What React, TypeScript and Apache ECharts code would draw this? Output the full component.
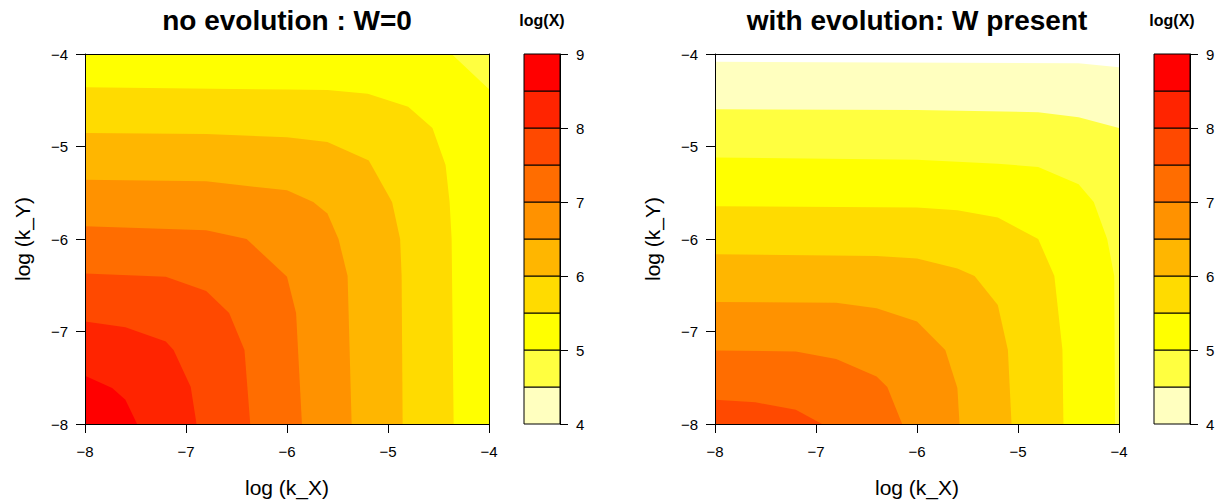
import React, { useEffect, useRef } from "react";
import * as echarts from "echarts";

// ---------- data ----------
const tickValues = [-8, -7, -6, -5, -4];
const legendTicks = [4, 5, 6, 7, 8, 9];
const levelBreaks = [4, 4.5, 5, 5.5, 6, 6.5, 7, 7.5, 8, 8.5, 9];
const bandColors = [
  "#FFFFBF", "#FFFF40", "#FFFF00", "#FFDB00", "#FFB600",
  "#FF9200", "#FF6D00", "#FF4900", "#FF2400", "#FF0000",
];

const noEvoTitle = "no evolution : W=0";
const withEvoTitle = "with evolution: W present";
const xTitle = "log (k_X)";
const yTitle = "log (k_Y)";
const legendTitle = "log(X)";

// Left panel: contour lines (log k_X, log k_Y) for each level; region toward (-8,-8) is above the level
const noEvoBaseLevel = 4.5; // lowest band present in the panel
const noEvoLevels = [5, 5.5, 6, 6.5, 7, 7.5, 8, 8.5];
const noEvo50 = [[-4.37, -4], [-4, -4.38]];
const noEvo55 = [[-8, -4.36], [-6, -4.385], [-5.6, -4.39], [-5.2, -4.43], [-4.8, -4.57], [-4.56, -4.8], [-4.43, -5.2], [-4.39, -5.6], [-4.37, -6.0], [-4.36, -7.0], [-4.35, -8]];
const noEvo60 = [[-8, -4.855], [-6.8, -4.865], [-6, -4.9], [-5.6, -4.95], [-5.19, -5.15], [-4.96, -5.6], [-4.88, -6.0], [-4.865, -6.4], [-4.855, -8]];
const noEvo65 = [[-8, -5.36], [-6.8, -5.377], [-6, -5.474], [-5.74, -5.6], [-5.6, -5.725], [-5.49, -6.0], [-5.4, -6.4], [-5.36, -8]];
const noEvo70 = [[-8, -5.862], [-6.8, -5.905], [-6.4, -6.0], [-6, -6.408], [-5.91, -6.8], [-5.852, -8]];
const noEvo75 = [[-8, -6.372], [-7.2, -6.408], [-6.8, -6.563], [-6.573, -6.8], [-6.421, -7.2], [-6.364, -8]];
const noEvo80 = [[-8, -6.893], [-7.6, -6.954], [-7.2, -7.109], [-7.123, -7.2], [-6.953, -7.6], [-6.896, -8]];
const noEvo85 = [[-8, -7.479], [-7.731, -7.612], [-7.6, -7.738], [-7.484, -8]];
const noEvoContours = [noEvo50, noEvo55, noEvo60, noEvo65, noEvo70, noEvo75, noEvo80, noEvo85];

// Right panel
const withEvoBaseLevel: number | null = null; // below 4: left blank
const withEvoLevels = [4, 4.5, 5, 5.5, 6, 6.5, 7, 7.5];
const withEvo40 = [[-8, -4.083], [-4.4, -4.1], [-4, -4.144]];
const withEvo45 = [[-8, -4.597], [-6, -4.605], [-4.8, -4.629], [-4.4, -4.683], [-4, -4.8]];
const withEvo50 = [[-8, -5.118], [-6, -5.143], [-5.2, -5.186], [-4.8, -5.222], [-4.4, -5.409], [-4.25, -5.6], [-4.117, -6.0], [-4.047, -6.4], [-4.039, -8]];
const withEvo55 = [[-8, -5.646], [-6, -5.66], [-5.6, -5.689], [-5.2, -5.768], [-4.8, -6.0], [-4.64, -6.4], [-4.56, -7.2], [-4.55, -8]];
const withEvo60 = [[-8, -6.164], [-6.4, -6.185], [-6, -6.21], [-5.6, -6.318], [-5.43, -6.4], [-5.2, -6.713], [-5.1, -7.2], [-5.064, -8]];
const withEvo65 = [[-8, -6.681], [-6.8, -6.69], [-6.4, -6.749], [-6, -6.893], [-5.72, -7.2], [-5.6, -7.612], [-5.579, -8]];
const withEvo70 = [[-8, -7.206], [-7.2, -7.215], [-6.8, -7.296], [-6.4, -7.486], [-6.294, -7.6], [-6.147, -8]];
const withEvo75 = [[-8, -7.738], [-7.6, -7.766], [-7.2, -7.846], [-6.94, -8]];
const withEvoContours = [withEvo40, withEvo45, withEvo50, withEvo55, withEvo60, withEvo65, withEvo70, withEvo75];

// ---------- helpers ----------
const FONT = "'Liberation Sans', Arial, Helvetica, sans-serif";
const minusFmt = (v: number) => (v < 0 ? "\u2212" + Math.abs(v) : String(v));
const XMIN = -8, XMAX = -4, YMIN = -8, YMAX = -4;

function closeContour(pts: number[][]) {
  const poly = pts.map((p) => p.slice());
  const start = pts[0];
  const end = pts[pts.length - 1];
  if (end[0] >= XMAX && end[1] > YMIN) poly.push([XMAX, YMIN]);
  poly.push([XMIN, YMIN]);
  if (start[1] >= YMAX && start[0] > XMIN) poly.push([XMIN, YMAX]);
  return poly;
}

function bandIndex(level: number) {
  return levelBreaks.indexOf(level);
}

function contourSeries(axisIdx: number, baseLevel: number | null, levels: number[], contours: number[][][]) {
  const polys: { pts: number[][]; color: string }[] = [];
  if (baseLevel !== null) {
    polys.push({
      pts: [[XMIN, YMAX], [XMAX, YMAX], [XMAX, YMIN], [XMIN, YMIN]],
      color: bandColors[bandIndex(baseLevel)],
    });
  }
  levels.forEach((lv, i) => {
    polys.push({ pts: closeContour(contours[i]), color: bandColors[bandIndex(lv)] });
  });
  return {
    type: "custom",
    xAxisIndex: axisIdx,
    yAxisIndex: axisIdx,
    clip: true,
    silent: true,
    z: 2,
    data: polys.map((p) => p.pts[0]),
    renderItem: (params: any, api: any) => {
      const p = polys[params.dataIndex];
      return {
        type: "polygon",
        shape: { points: p.pts.map((q) => api.coord(q)) },
        style: { fill: p.color, stroke: null },
      };
    },
  };
}

function legendSeries(axisIdx: number) {
  const bands = bandColors.map((c, i) => [levelBreaks[i], levelBreaks[i + 1]]);
  return {
    type: "custom",
    xAxisIndex: axisIdx,
    yAxisIndex: axisIdx,
    silent: true,
    z: 2,
    data: bands.map((b) => [0, b[0], b[1]]),
    renderItem: (params: any, api: any) => {
      const lo = api.value(1);
      const hi = api.value(2);
      const p1 = api.coord([0, hi]);
      const p2 = api.coord([1, lo]);
      return {
        type: "rect",
        shape: { x: p1[0], y: p1[1], width: p2[0] - p1[0], height: p2[1] - p1[1] },
        style: { fill: bandColors[params.dataIndex], stroke: "#000", lineWidth: 1 },
      };
    },
  };
}

const lineOnly = (gridIndex: number, position: string, isX: boolean) => ({
  type: "value",
  gridIndex,
  min: isX ? XMIN : YMIN,
  max: isX ? XMAX : YMAX,
  position,
  z: 10,
  axisLine: { show: true, onZero: false, lineStyle: { color: "#000", width: 1 } },
  axisTick: { show: false },
  axisLabel: { show: false },
  splitLine: { show: false },
});

const TICK_FS = 15;

const mainX = (gridIndex: number) => ({
  type: "value",
  gridIndex,
  min: XMIN,
  max: XMAX,
  interval: 1,
  position: "bottom",
  z: 10,
  axisLine: { show: true, onZero: false, lineStyle: { color: "#000", width: 1 } },
  axisTick: { show: true, inside: false, length: 9, lineStyle: { color: "#000" } },
  axisLabel: { show: true, margin: 20, formatter: minusFmt, color: "#000", fontSize: TICK_FS, fontFamily: FONT },
  splitLine: { show: false },
});

const mainY = (gridIndex: number) => ({
  type: "value",
  gridIndex,
  min: YMIN,
  max: YMAX,
  interval: 1,
  position: "left",
  z: 10,
  axisLine: { show: true, onZero: false, lineStyle: { color: "#000", width: 1 } },
  axisTick: { show: true, inside: false, length: 9, lineStyle: { color: "#000" } },
  axisLabel: { show: true, margin: 17, formatter: minusFmt, color: "#000", fontSize: TICK_FS, fontFamily: FONT },
  splitLine: { show: false },
});

const legendX = (gridIndex: number) => ({
  type: "value",
  gridIndex,
  min: 0,
  max: 1,
  show: false,
});

const legendY = (gridIndex: number) => ({
  type: "value",
  gridIndex,
  min: legendTicks[0],
  max: legendTicks[legendTicks.length - 1],
  interval: 1,
  position: "right",
  z: 10,
  axisLine: { show: true, onZero: false, lineStyle: { color: "#000", width: 1 } },
  axisTick: { show: true, inside: false, length: 8, lineStyle: { color: "#000" } },
  axisLabel: { show: true, margin: 16, color: "#000", fontSize: TICK_FS, fontFamily: FONT },
  splitLine: { show: false },
});

const PLOT_TOP = 54, PLOT_H = 370, PLOT_W = 404;
const LEFT1 = 85, LEFT2 = 715, LEG1 = 524, LEG2 = 1154, LEG_W = 36;

function text(x: number, y: number, str: string, size: number, bold: boolean, rotate = 0) {
  return {
    type: "text",
    x,
    y,
    rotation: rotate,
    style: {
      text: str,
      fill: "#000",
      font: `${bold ? "bold " : ""}${size}px ${FONT}`,
      textAlign: "center",
      textVerticalAlign: "middle",
    },
    silent: true,
  };
}

export default function App() {
  const ref = useRef<HTMLDivElement>(null);
  useEffect(() => {
    if (!ref.current) return;
    const chart = echarts.init(ref.current, null, { renderer: "svg" });
    const option: any = {
      animation: false,
      backgroundColor: "#fff",
      grid: [
        { left: LEFT1, top: PLOT_TOP, width: PLOT_W, height: PLOT_H, containLabel: false },
        { left: LEG1, top: PLOT_TOP, width: LEG_W, height: PLOT_H, containLabel: false },
        { left: LEFT2, top: PLOT_TOP, width: PLOT_W, height: PLOT_H, containLabel: false },
        { left: LEG2, top: PLOT_TOP, width: LEG_W, height: PLOT_H, containLabel: false },
      ],
      xAxis: [
        mainX(0), legendX(1), mainX(2), legendX(3),
        lineOnly(0, "top", true), lineOnly(2, "top", true),
      ],
      yAxis: [
        mainY(0), legendY(1), mainY(2), legendY(3),
        lineOnly(0, "right", false), lineOnly(2, "right", false),
      ],
      series: [
        contourSeries(0, noEvoBaseLevel, noEvoLevels, noEvoContours),
        legendSeries(1),
        contourSeries(2, withEvoBaseLevel, withEvoLevels, withEvoContours),
        legendSeries(3),
      ],
      graphic: [
        text(LEFT1 + PLOT_W / 2, 20, noEvoTitle, 28, true),
        text(LEFT2 + PLOT_W / 2, 20, withEvoTitle, 28, true),
        text(LEG1 + LEG_W / 2, 20, legendTitle, 16, true),
        text(LEG2 + LEG_W / 2, 20, legendTitle, 16, true),
        text(LEFT1 + PLOT_W / 2, 487, xTitle, 21, false),
        text(LEFT2 + PLOT_W / 2, 487, xTitle, 21, false),
        text(22, PLOT_TOP + PLOT_H / 2, yTitle, 21, false, Math.PI / 2),
        text(652, PLOT_TOP + PLOT_H / 2, yTitle, 21, false, Math.PI / 2),
      ],
    };
    chart.setOption(option);
    return () => chart.dispose();
  }, []);
  return (
    <div
      ref={ref}
      style={{ position: "absolute", left: 0, top: 0, width: 1221, height: 501 }}
    />
  );
}
